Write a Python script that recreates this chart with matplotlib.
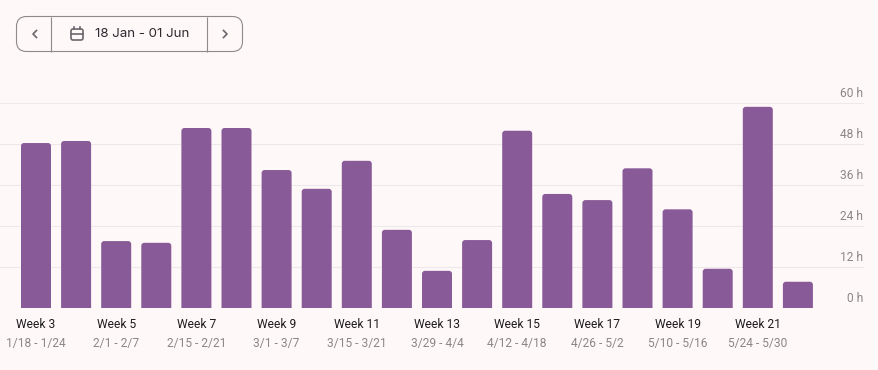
import matplotlib
matplotlib.use("Agg")
import matplotlib.pyplot as plt
from matplotlib.patches import FancyBboxPatch, PathPatch
from matplotlib.path import Path

hours = [48.4, 49, 19.7, 19.2, 52.8, 52.8, 40.5, 35, 43.2, 23, 11, 20, 52, 33.5, 31.7, 41, 29, 11.6, 59, 7.8]
week_labels = ["Week 3", "Week 5", "Week 7", "Week 9", "Week 11", "Week 13", "Week 15", "Week 17", "Week 19", "Week 21"]
date_labels = ["1/18 - 1/24", "2/1 - 2/7", "2/15 - 2/21", "3/1 - 3/7", "3/15 - 3/21", "3/29 - 4/4",
               "4/12 - 4/18", "4/26 - 5/2", "5/10 - 5/16", "5/24 - 5/30"]
y_ticks = [0, 12, 24, 36, 48, 60]
date_range = "18 Jan - 01 Jun"

W, H = 879, 370
BG = "#fff8f8"
BAR = "#885a97"
GRID = "#efe8ea"
GREY = "#8b8689"
BORDER = "#8f898e"
ICON = "#6b666b"
px = 72 / 100

plt.rcParams["font.family"] = ["Roboto", "DejaVu Sans"]
fig = plt.figure(figsize=(W / 100, H / 100), dpi=100, facecolor=BG)

# chart area, 60 h line at y=103 and 0 h at y=308
ax = fig.add_axes([0, 1 - 308.4 / H, 864 / W, 205 / H])
ax.set_facecolor("none")
step = 40.1
ax.set_xlim(-36 / step, (864 - 36) / step)
ax.set_ylim(0, 60)
for s in ax.spines.values():
    s.set_visible(False)
ax.tick_params(left=False, bottom=False, labelleft=False, labelbottom=False)
ax.set_yticks(y_ticks)
ax.grid(axis="y", color=GRID, lw=0.75)
ax.set_axisbelow(True)

bars = ax.bar(range(len(hours)), hours, width=30 / step, color=BAR)

# swap the top corners for rounded ones
rx, ry = 3 / step, 3 * 60 / 205
for b in list(bars):
    x0, w, h = b.get_x(), b.get_width(), b.get_height()
    x1 = x0 + w
    verts = [(x0, 0), (x0, h - ry), (x0, h), (x0 + rx, h), (x1 - rx, h), (x1, h), (x1, h - ry), (x1, 0), (x0, 0)]
    codes = [Path.MOVETO, Path.LINETO, Path.CURVE3, Path.CURVE3, Path.LINETO, Path.CURVE3, Path.CURVE3, Path.LINETO,
             Path.CLOSEPOLY]
    ax.add_patch(PathPatch(Path(verts, codes), fc=BAR, ec="none", zorder=2))
    b.set_visible(False)

for t in y_ticks:
    ax.annotate(f"{t} h", (1, t), xycoords=ax.get_yaxis_transform(), xytext=(-1 * px, 10 * px),
                textcoords="offset points", ha="right", va="center", fontsize=12 * px, color=GREY)

for i, (wk, d) in enumerate(zip(week_labels, date_labels)):
    ax.annotate(wk, (i * 2, 0), xytext=(0, -16.5 * px), textcoords="offset points", ha="center", va="center",
                fontsize=12 * px, color="#1d1b1e", annotation_clip=False)
    ax.annotate(d, (i * 2, 0), xytext=(0, -35 * px), textcoords="offset points", ha="center", va="center",
                fontsize=12 * px, color=GREY, annotation_clip=False)

# date picker on top, in pixel coords
ui = fig.add_axes([0, 0, 1, 1])
ui.set_xlim(0, W)
ui.set_ylim(H, 0)
ui.axis("off")
ui.add_patch(FancyBboxPatch((16.5, 16.5), 226, 35, boxstyle="round,pad=0,rounding_size=10", fc="none", ec=BORDER, lw=0.8))
for xd in [51.5, 207.5]:
    ui.plot([xd, xd], [16.5, 51.5], color=BORDER, lw=0.8, solid_capstyle="butt")
ui.plot([36.5, 33, 36.5], [30.5, 34, 37.5], color=ICON, lw=1.2)
ui.plot([223.5, 227, 223.5], [30.5, 34, 37.5], color=ICON, lw=1.2)
ui.text(95, 34, date_range, ha="left", va="center", fontsize=13.3 * px, color="#2b2930", family=["Inter", "DejaVu Sans"])

# calendar icon
ui.add_patch(FancyBboxPatch((71, 29), 12, 11, boxstyle="round,pad=0,rounding_size=2", fc="none", ec=ICON, lw=1.2))
ui.plot([71, 83], [33.5, 33.5], color=ICON, lw=1.2)
ui.plot([74, 74], [26.5, 29], color=ICON, lw=1.2)
ui.plot([80, 80], [26.5, 29], color=ICON, lw=1.2)

fig.savefig("out.png", dpi=100, facecolor=BG)
